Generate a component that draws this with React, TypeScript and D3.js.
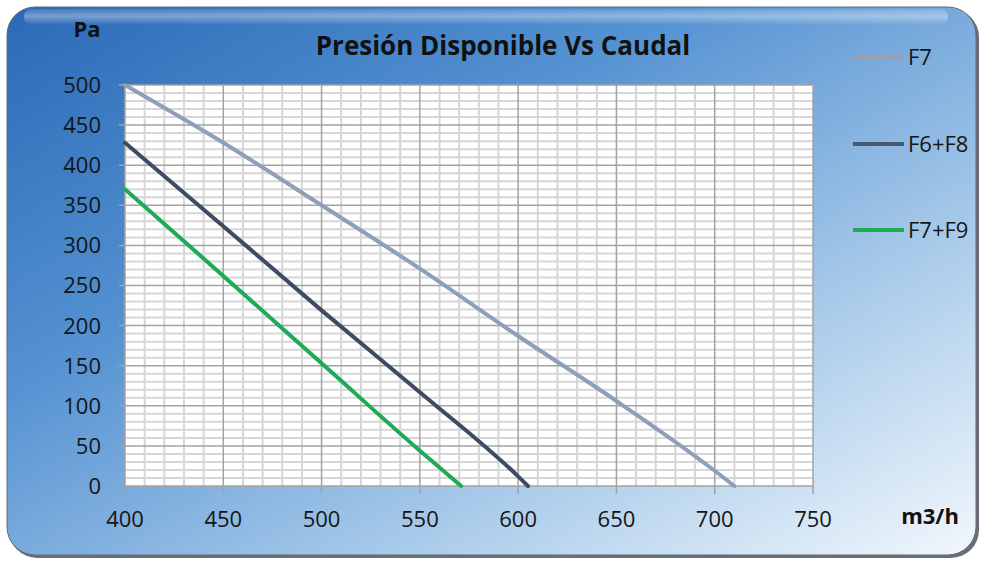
import React, { useRef, useEffect } from 'react';
import * as d3 from 'd3';

// Caudal (m3/h) vs presión disponible (Pa)
const f7X = [400, 450, 500, 550, 600, 650, 700, 710];
const f7Y = [500, 428, 350, 271, 187, 106, 19, 0];
const f6f8X = [400, 450, 500, 550, 600, 605];
const f6f8Y = [428, 324, 219, 117, 12, 0];
const f7f9X = [400, 450, 500, 550, 571];
const f7f9Y = [370, 262, 153, 44, 0];

const seriesNames = ['F7', 'F6+F8', 'F7+F9'];
const seriesColors = ['#8e9fb8', '#3e4c62', '#1faa57'];
const legendColors = ['#9aa1ab', '#4a5870', '#1faa57'];

const xTicks = [400, 450, 500, 550, 600, 650, 700, 750];
const yTicks = [0, 50, 100, 150, 200, 250, 300, 350, 400, 450, 500];

const W = 984;
const H = 562;
const FONT = '"Open Sans", "DejaVu Sans", sans-serif';

export default function App() {
  const svgRef = useRef<SVGSVGElement>(null);

  useEffect(() => {
    if (!svgRef.current) return;
    const svg = d3.select(svgRef.current);
    svg.selectAll('*').remove();

    const defs = svg.append('defs');
    const bg = defs.append('linearGradient')
      .attr('id', 'bg').attr('x1', '0').attr('y1', '0').attr('x2', '1').attr('y2', '1');
    bg.append('stop').attr('offset', '0').attr('stop-color', '#2a69b6');
    bg.append('stop').attr('offset', '0.35').attr('stop-color', '#5592d2');
    bg.append('stop').attr('offset', '0.7').attr('stop-color', '#a9cbea');
    bg.append('stop').attr('offset', '1').attr('stop-color', '#f2f7fc');

    const gloss = defs.append('linearGradient')
      .attr('id', 'gloss').attr('x1', '0').attr('y1', '0').attr('x2', '0').attr('y2', '1');
    gloss.append('stop').attr('offset', '0').attr('stop-color', '#ffffff').attr('stop-opacity', 0.1);
    gloss.append('stop').attr('offset', '0.45').attr('stop-color', '#ffffff').attr('stop-opacity', 0.35);
    gloss.append('stop').attr('offset', '1').attr('stop-color', '#ffffff').attr('stop-opacity', 0);

    // panel shadow + panel
    svg.append('rect')
      .attr('x', 9).attr('y', 9).attr('width', W - 14).attr('height', H - 13)
      .attr('rx', 28).attr('fill', '#6b6f75');
    svg.append('rect')
      .attr('x', 7).attr('y', 7).attr('width', W - 15).attr('height', H - 14)
      .attr('rx', 28).attr('fill', 'url(#bg)')
      .attr('stroke', '#5c6a7a').attr('stroke-width', 1);
    svg.append('rect')
      .attr('x', 24).attr('y', 9).attr('width', W - 60).attr('height', 16)
      .attr('rx', 8).attr('fill', 'url(#gloss)');

    const x = d3.scaleLinear().domain([400, 750]).range([125, 813]);
    const y = d3.scaleLinear().domain([0, 500]).range([486, 85]);

    const plot = svg.append('g');
    plot.append('rect')
      .attr('x', x(400)).attr('y', y(500))
      .attr('width', x(750) - x(400)).attr('height', y(0) - y(500))
      .attr('fill', '#ffffff');

    // minor grid every 10
    const minor = d3.range(400, 751, 10).filter(v => v % 50 !== 0);
    const minorY = d3.range(0, 501, 10).filter(v => v % 50 !== 0);
    plot.selectAll('.vmin').data(minor).join('line')
      .attr('x1', d => x(d)).attr('x2', d => x(d))
      .attr('y1', y(500)).attr('y2', y(0))
      .attr('stroke', '#d6d6d6').attr('stroke-width', 2);
    plot.selectAll('.hmin').data(minorY).join('line')
      .attr('y1', d => y(d)).attr('y2', d => y(d))
      .attr('x1', x(400)).attr('x2', x(750))
      .attr('stroke', '#d6d6d6').attr('stroke-width', 2);
    // major grid
    plot.selectAll('.vmaj').data(xTicks).join('line')
      .attr('x1', d => x(d)).attr('x2', d => x(d))
      .attr('y1', y(500)).attr('y2', y(0) + 8)
      .attr('stroke', '#a3a3a3').attr('stroke-width', 1.5);
    plot.selectAll('.hmaj').data(yTicks).join('line')
      .attr('y1', d => y(d)).attr('y2', d => y(d))
      .attr('x1', x(400) - 6).attr('x2', x(750))
      .attr('stroke', '#a3a3a3').attr('stroke-width', 1.5);

    // tick labels
    svg.append('g').selectAll('text').data(yTicks).join('text')
      .attr('x', 101).attr('y', d => y(d)).attr('dy', '0.36em')
      .attr('text-anchor', 'end').attr('font-family', FONT).attr('font-size', 22)
      .attr('fill', '#151515').text(d => d);
    svg.append('g').selectAll('text').data(xTicks).join('text')
      .attr('x', d => x(d)).attr('y', 519).attr('dy', '0.36em')
      .attr('text-anchor', 'middle').attr('font-family', FONT).attr('font-size', 22)
      .attr('fill', '#151515').text(d => d);

    // series
    const series = [
      f7X.map((v, i) => [v, f7Y[i]]),
      f6f8X.map((v, i) => [v, f6f8Y[i]]),
      f7f9X.map((v, i) => [v, f7f9Y[i]]),
    ] as [number, number][][];
    const line = d3.line<[number, number]>()
      .x(d => x(d[0])).y(d => y(d[1]))
      .curve(d3.curveMonotoneX);
    series.forEach((s, i) => {
      svg.append('path')
        .attr('d', line(s) || '')
        .attr('fill', 'none')
        .attr('stroke', seriesColors[i])
        .attr('stroke-width', 4)
        .attr('stroke-linecap', 'round');
    });

    // legend
    const legY = [57, 144, 230];
    seriesNames.forEach((name, i) => {
      svg.append('line')
        .attr('x1', 853).attr('x2', 904).attr('y1', legY[i]).attr('y2', legY[i])
        .attr('stroke', legendColors[i]).attr('stroke-width', 4);
      svg.append('text')
        .attr('x', 908).attr('y', legY[i]).attr('dy', '0.36em')
        .attr('font-family', FONT).attr('font-size', 22).attr('fill', '#151515')
        .text(name);
    });

    // titles
    svg.append('text')
      .attr('x', 503).attr('y', 46).attr('dy', '0.36em')
      .attr('text-anchor', 'middle').attr('font-family', FONT)
      .attr('font-size', 26).attr('font-weight', 'bold').attr('fill', '#111')
      .text('Presión Disponible Vs Caudal');
    svg.append('text')
      .attr('x', 87).attr('y', 29).attr('dy', '0.36em')
      .attr('text-anchor', 'middle').attr('font-family', FONT)
      .attr('font-size', 22).attr('font-weight', 'bold').attr('fill', '#111')
      .text('Pa');
    svg.append('text')
      .attr('x', 930).attr('y', 516).attr('dy', '0.36em')
      .attr('text-anchor', 'middle').attr('font-family', FONT)
      .attr('font-size', 22).attr('font-weight', 'bold').attr('fill', '#111')
      .text('m3/h');
  }, []);

  return (
    <div style={{ position: 'absolute', left: 0, top: 0, width: W, height: H, background: '#fff' }}>
      <svg ref={svgRef} width={W} height={H} style={{ display: 'block' }} />
    </div>
  );
}
